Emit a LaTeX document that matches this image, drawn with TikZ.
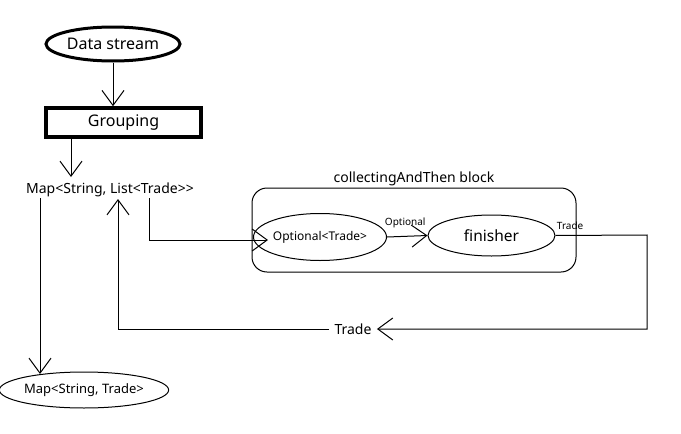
\documentclass[tikz,border=0pt]{standalone}
\usepackage{fontspec}
\setmainfont{Noto Sans}
\usetikzlibrary{arrows.meta,shapes.geometric}
\begin{document}
\begin{tikzpicture}[x=1pt, y=-1pt, line width=1pt,
  arr/.style={-{Straight Barb[length=15pt,width=22pt]}},
  big/.style={font=\fontsize{16}{18}\selectfont},
  mid/.style={font=\fontsize{14}{16}\selectfont},
  tiny/.style={font=\fontsize{10}{11}\selectfont},
  state/.style={draw, ellipse, inner sep=0pt}]
  \useasboundingbox (0,0) rectangle (681,434);

  % Source and grouping
  \node[state, big, line width=3pt, minimum width=134pt, minimum height=34pt] (ds) at (113,44) {Data stream};
  \node[draw, big, line width=3.5pt, minimum width=155pt, minimum height=29pt] (grp) at (123.5,122.5) {Grouping};
  \node[mid, inner sep=0pt] (mlist) at (110,190) {Map<String, List<Trade>{}>};
  \node[state, font=\fontsize{13}{15}\selectfont, minimum width=155pt, minimum height=36pt] (mres) at (84,390) {Map<String, Trade>};

  % collectingAndThen block
  \node[draw, rounded corners=15pt, minimum width=324pt, minimum height=84pt,
        label={[mid, inner sep=1pt]above:collectingAndThen block}] (blk) at (414,230) {};
  \node[state, font=\fontsize{12}{14}\selectfont, minimum width=103pt, minimum height=47pt] (opt) at (320,237) {Optional<Trade>};
  \node[state, font=\fontsize{15.5}{17}\selectfont, minimum width=127pt, minimum height=41pt] (fin) at (491.5,235.5) {finisher};
  \node[mid, inner xsep=5pt] (tr) at (353,329) {Trade};

  \coordinate (g1) at (71,138);   \coordinate (g2) at (71,177);
  \coordinate (d1) at (40,198);   \coordinate (d2) at (40,374);
  \coordinate (o1) at (149,198);  \coordinate (o2) at (149,240);
  \coordinate (o3) at (268,240);
  \coordinate (r1) at (647,235);  \coordinate (r2) at (647,329);
  \coordinate (u1) at (118,329);  \coordinate (u2) at (118,199);

  \draw[arr] (ds.south) -- (ds.south |- grp.north);
  \draw[arr] (g1) -- (g2);
  \draw[arr] (d1) -- (d2);
  \draw[arr] (o1) -- (o2) -- (o3);
  \draw[arr] (opt.east) -- node[tiny, above=5pt, xshift=-2pt] {Optional} (fin.west);
  \draw[arr] (fin.east) -- node[tiny, above=2pt, pos=0.16] {Trade} (r1) -- (r2) -- (tr.east);
  \draw[arr] (tr.west) -- (u1) -- (u2);
\end{tikzpicture}
\end{document}
